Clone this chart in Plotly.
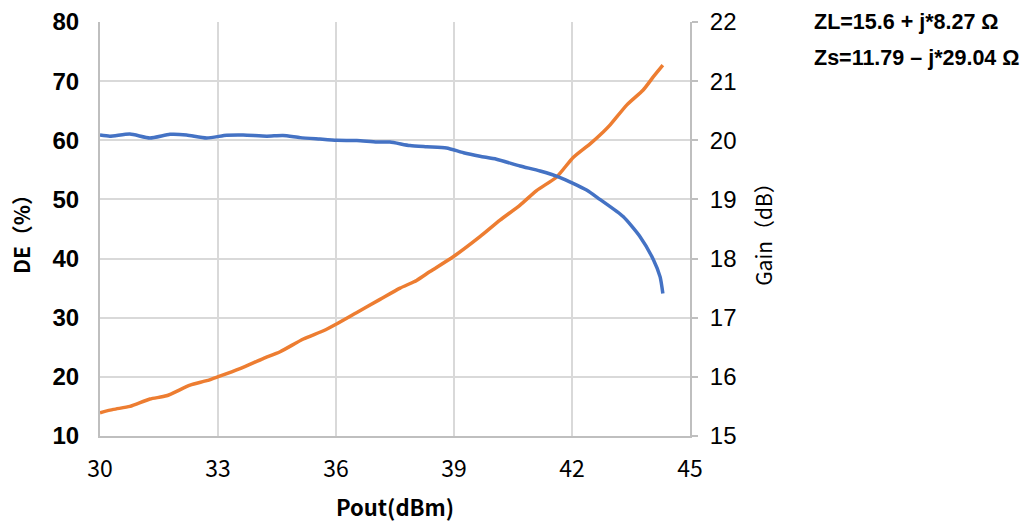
import plotly.graph_objects as go

# Gain vs Pout (blue, right axis)
pout_gain = [30.00, 30.25, 30.76, 31.27, 31.78, 32.20, 32.71, 33.22, 33.64, 34.24,
             34.65, 35.09, 35.59, 36.02, 36.53, 37.04, 37.37, 37.88, 38.31, 38.81,
             39.24, 39.66, 40.08, 40.68, 41.19, 41.70, 42.37, 42.71, 43.30, 43.73,
             44.07, 44.24, 44.31]
gain_db = [20.09, 20.07, 20.105, 20.04, 20.10, 20.09, 20.04, 20.085, 20.09, 20.07,
           20.08, 20.045, 20.02, 20.00, 19.995, 19.97, 19.97, 19.91, 19.89, 19.87,
           19.79, 19.73, 19.68, 19.565, 19.48, 19.37, 19.16, 19.00, 18.71, 18.37,
           17.98, 17.69, 17.41]

# Drain efficiency vs Pout (orange, left axis)
pout_de = [30.00, 30.34, 30.76, 31.27, 31.69, 32.29, 32.71, 32.99, 33.56, 34.15,
           34.58, 35.17, 35.68, 36.00, 36.52, 37.12, 37.63, 38.05, 38.39, 38.98,
           39.66, 40.17, 40.68, 41.10, 41.61, 42.03, 42.46, 42.80, 42.97, 43.39,
           43.81, 44.07, 44.31]
de_pct = [13.94, 14.5, 15.0, 16.25, 16.8, 18.6, 19.35, 20.0, 21.4, 23.1,
          24.25, 26.4, 27.8, 28.9, 30.85, 33.1, 35.0, 36.3, 37.8, 40.3,
          43.7, 46.5, 49.05, 51.5, 53.8, 57.1, 59.4, 61.45, 62.6, 65.95,
          68.5, 70.75, 72.7]

x_ticks = [30, 33, 36, 39, 42, 45]
de_ticks = [10, 20, 30, 40, 50, 60, 70, 80]
gain_ticks = [15, 16, 17, 18, 19, 20, 21, 22]

annot_lines = ["ZL=15.6 + j*8.27 Ω", "Zs=11.79 – j*29.04 Ω"]

fig = go.Figure()
fig.add_trace(go.Scatter(x=pout_gain, y=gain_db, yaxis="y2", mode="lines",
                         line=dict(color="#4472C4", width=3.5, shape="spline", smoothing=0.6),
                         showlegend=False))
fig.add_trace(go.Scatter(x=pout_de, y=de_pct, mode="lines",
                         line=dict(color="#ED7D31", width=3.5, shape="spline", smoothing=0.6),
                         showlegend=False))

grid = "#d9d9d9"
axis = "#bfbfbf"
fig.update_layout(
    width=1020, height=522,
    margin=dict(l=100, r=330, t=22, b=86),
    paper_bgcolor="white", plot_bgcolor="white",
    xaxis=dict(range=[30, 45], tickvals=x_ticks, showgrid=True, gridcolor=grid, gridwidth=2,
               showline=True, linecolor=axis, linewidth=2, zeroline=False, ticks="",
               ticklabelstandoff=11, automargin=False,
               tickfont=dict(family="Noto Sans CJK SC", size=23, color="black"),
               title=dict(text="Pout(dBm)", standoff=18,
                          font=dict(family="Noto Sans CJK SC", size=22, color="black", weight="bold"))),
    yaxis=dict(range=[10, 80], tickvals=de_ticks, showgrid=True, gridcolor=grid, gridwidth=2,
               showline=True, linecolor=axis, linewidth=2, zeroline=False, ticks="",
               ticklabelstandoff=14, automargin=False,
               tickfont=dict(family="Liberation Sans", size=24, color="black", weight="bold"),
               title=dict(text="DE（%）", standoff=16,
                          font=dict(family="Noto Sans CJK SC", size=21, color="black", weight="bold"))),
    yaxis2=dict(range=[15, 22], tickvals=gain_ticks, overlaying="y", side="right",
                showgrid=False, showline=True, linecolor=axis, linewidth=2, zeroline=False,
                ticks="outside", ticklen=6, tickwidth=2, tickcolor=axis,
                ticklabelstandoff=7, automargin=False,
                tickfont=dict(family="Liberation Sans", size=24, color="black"),
                title=dict(text="Gain（dB）", standoff=22,
                           font=dict(family="Noto Sans CJK SC", size=21, color="black"))),
)

fig.add_annotation(text=annot_lines[0], xref="paper", yref="paper", x=1.207, y=0.999,
                   xanchor="left", yanchor="middle", showarrow=False,
                   font=dict(family="Liberation Sans", size=21.5, color="black", weight="bold"))
fig.add_annotation(text=annot_lines[1], xref="paper", yref="paper", x=1.207, y=0.912,
                   xanchor="left", yanchor="middle", showarrow=False,
                   font=dict(family="Liberation Sans", size=21.5, color="black", weight="bold"))

fig.write_html("out.html")
